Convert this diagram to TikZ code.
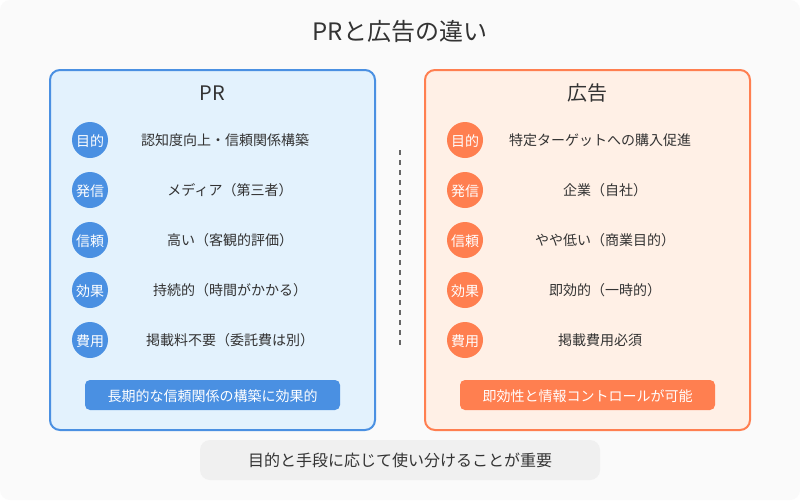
\documentclass[tikz,border=0pt]{standalone}
\usepackage{fontspec}
\setmainfont{Noto Sans CJK JP}
\usepackage{tikz}
\definecolor{ink}{HTML}{333333}
\definecolor{rule}{HTML}{666666}
\definecolor{prblue}{HTML}{4A90E2}
\definecolor{prpale}{HTML}{E3F2FD}
\definecolor{adorange}{HTML}{FF7F50}
\definecolor{adpale}{HTML}{FFF0E6}
\tikzset{
  panel/.style={shape=rectangle,rounded corners=7.5pt,line width=1.5pt,minimum width=243.75pt,minimum height=270pt,inner sep=0pt},
  badge/.style={shape=circle,minimum size=27pt,inner sep=0pt,text=white,text height=9.5pt,text depth=.5pt,font=\fontsize{10.5}{12}\selectfont},
  item/.style={text=ink,inner sep=0pt,text height=9pt,text depth=.75pt,font=\fontsize{10.5}{12}\selectfont},
  heading/.style={text=ink,inner sep=0pt,text height=13pt,text depth=1pt,font=\fontsize{15}{18}\selectfont},
  summary/.style={shape=rectangle,rounded corners=3.75pt,minimum width=191.25pt,minimum height=22.5pt,inner sep=0pt,text=white,text height=9.5pt,text depth=.5pt,font=\fontsize{10.5}{12}\selectfont}
}
\begin{document}
\begin{tikzpicture}[x=0.75pt,y=-0.75pt]
\useasboundingbox (0,0) rectangle (800,500);

\node[shape=rectangle,fill=white,minimum width=600pt,minimum height=375pt,inner sep=0pt,outer sep=0pt] (page) at (400,250) {};
\node[shape=rectangle,fill=black!2,rounded corners=7.5pt,minimum width=600pt,minimum height=375pt,inner sep=0pt,outer sep=0pt] (backdrop) at (400,250) {};

\node[text=ink,inner sep=0pt,text height=16pt,text depth=1pt,font=\fontsize{18}{22}\selectfont] (title) at (400,30) {PRと広告の違い};

\node[panel,draw=prblue,fill=prpale] (PR) at (212.5,250) {};
\node[heading] (PRhead) at (212.5,92) {PR};
\node[badge,fill=prblue] (P1) at (90,140) {目的};
\node[badge,fill=prblue] (P2) at (90,190) {発信};
\node[badge,fill=prblue] (P3) at (90,240) {信頼};
\node[badge,fill=prblue] (P4) at (90,290) {効果};
\node[badge,fill=prblue] (P5) at (90,340) {費用};
\node[item] (T1) at (225,140) {認知度向上・信頼関係構築};
\node[item] (T2) at (230,190) {メディア（第三者）};
\node[item] (T3) at (230,240) {高い（客観的評価）};
\node[item] (T4) at (230,290) {持続的（時間がかかる）};
\node[item] (T5) at (230,340) {掲載料不要（委託費は別）};
\node[summary,fill=prblue] (PRsum) at (212.5,395) {長期的な信頼関係の構築に効果的};

\node[panel,draw=adorange,fill=adpale] (AD) at (587.5,250) {};
\node[heading] (ADhead) at (587.5,92) {広告};
\node[badge,fill=adorange] (A1) at (465,140) {目的};
\node[badge,fill=adorange] (A2) at (465,190) {発信};
\node[badge,fill=adorange] (A3) at (465,240) {信頼};
\node[badge,fill=adorange] (A4) at (465,290) {効果};
\node[badge,fill=adorange] (A5) at (465,340) {費用};
\node[item] (U1) at (600,140) {特定ターゲットへの購入促進};
\node[item] (U2) at (605,190) {企業（自社）};
\node[item] (U3) at (605,240) {やや低い（商業目的）};
\node[item] (U4) at (605,290) {即効的（一時的）};
\node[item] (U5) at (600,340) {掲載費用必須};
\node[summary,fill=adorange] (ADsum) at (587.5,395) {即効性と情報コントロールが可能};

\coordinate (D1) at (400,150);
\coordinate (D2) at (400,350);
\path [draw=rule,line width=1.5pt,dash pattern=on 3.75pt off 3.75pt] (D1) edge (D2);

\node[shape=rectangle,fill=black!6,rounded corners=7.5pt,minimum width=300pt,minimum height=30pt,inner sep=0pt,text=ink,text height=10pt,text depth=1pt,font=\fontsize{12}{14}\selectfont] (note) at (400,460) {目的と手段に応じて使い分けることが重要};

\end{tikzpicture}
\end{document}
